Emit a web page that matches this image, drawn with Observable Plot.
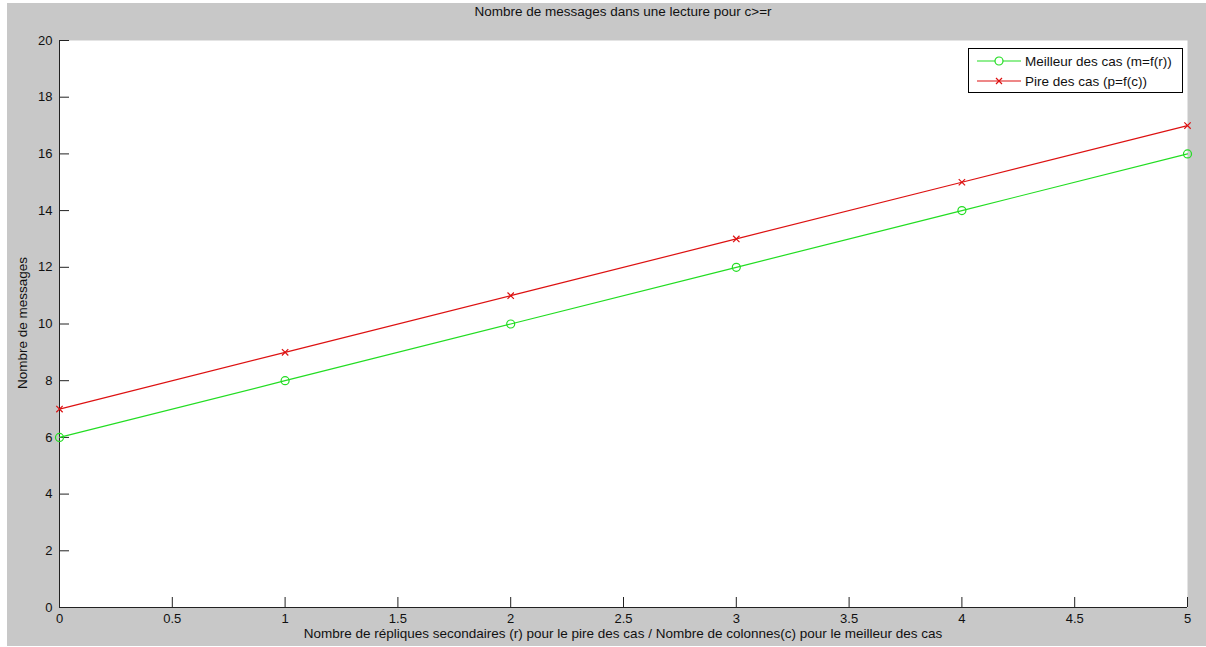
<!DOCTYPE html>
<html>
<head>
<meta charset="utf-8">
<script src="https://cdn.jsdelivr.net/npm/d3@7"></script>
<script src="https://cdn.jsdelivr.net/npm/@observablehq/plot@0.6"></script>
<style>
  html, body { margin: 0; padding: 0; background: #ffffff; }
  body { width: 1206px; height: 647px; position: relative; overflow: hidden; font-family: "Liberation Sans", Arial, sans-serif; }
  #fig { position: absolute; left: 7px; top: 3px; width: 1199px; height: 643px; background: #c8c8c8; }
  #chart { position: absolute; left: 0; top: 0; }
  .txt { position: absolute; font-size: 13.5px; color: #111; white-space: nowrap; }
  #title { left: 0; width: 1246px; top: 4px; text-align: center; }
  #xlabel { left: 0; width: 1246px; top: 626px; text-align: center; }
  #ylabel { left: 22px; top: 323px; transform: translate(-50%, -50%) rotate(-90deg); }
  #legend { position: absolute; left: 968px; top: 48px; width: 215px; height: 45px; background: #fff; border: 1px solid #000; box-sizing: border-box; }
  .row { position: absolute; left: 0; height: 20px; display: flex; align-items: center; font-size: 13.5px; color: #111; }
  .row svg { margin-left: 8px; margin-right: 4px; }
</style>
</head>
<body>
<div id="fig"></div>
<div id="chart"></div>
<div id="title" class="txt"></div>
<div id="xlabel" class="txt"></div>
<div id="ylabel" class="txt"></div>
<div id="legend"></div>
<script>
// ---- data ----
const xValues = [0, 1, 2, 3, 4, 5];
const bestCase = [6, 8, 10, 12, 14, 16];   // Meilleur des cas (m=f(r))
const worstCase = [7, 9, 11, 13, 15, 17];  // Pire des cas (p=f(c))
const seriesNames = ["Meilleur des cas (m=f(r))", "Pire des cas (p=f(c))"];
const xTicks = [0, 0.5, 1, 1.5, 2, 2.5, 3, 3.5, 4, 4.5, 5];
const yTicks = [0, 2, 4, 6, 8, 10, 12, 14, 16, 18, 20];
const titleText = "Nombre de messages dans une lecture pour c>=r";
const xLabelText = "Nombre de répliques secondaires (r) pour le pire des cas / Nombre de colonnes(c) pour le meilleur des cas";
const yLabelText = "Nombre de messages";

// ---- styles ----
const greenColor = "#22dd22";
const redColor = "#dd1111";

const best = xValues.map((x, i) => ({x, y: bestCase[i]}));
const worst = xValues.map((x, i) => ({x, y: worstCase[i]}));

const W = 1206, H = 647;
const mL = 59, mT = 40, mR = 19, mB = 40;
const innerW = W - mL - mR, innerH = H - mT - mB;
const tickLen = 10;

const chart = Plot.plot({
  width: W, height: H,
  marginLeft: mL, marginTop: mT, marginRight: mR, marginBottom: mB,
  x: {domain: [0, 5]},
  y: {domain: [0, 20]},
  style: {background: "transparent", fontFamily: "'Liberation Sans', Arial, sans-serif", fontSize: "13px", color: "#111"},
  marks: [
    Plot.frame({fill: "white", stroke: null}),
    Plot.tickY(yTicks, {y: d => d, insetRight: innerW - tickLen, stroke: "#222", strokeWidth: 1}),
    Plot.tickX(xTicks, {x: d => d, insetTop: innerH - tickLen, stroke: "#222", strokeWidth: 1}),
    Plot.axisX({ticks: xTicks, tickSize: 0, tickPadding: 6, label: null, tickFormat: d => String(d)}),
    Plot.axisY({ticks: yTicks, tickSize: 0, tickPadding: 7, label: null, tickFormat: d => String(d)}),
    Plot.ruleX([0], {stroke: "#222"}),
    Plot.ruleY([0], {stroke: "#222"}),
    Plot.line(best, {x: "x", y: "y", stroke: greenColor, strokeWidth: 1.2}),
    Plot.dot(best, {x: "x", y: "y", r: 4, stroke: greenColor, strokeWidth: 1.2, fill: "none"}),
    Plot.line(worst, {x: "x", y: "y", stroke: redColor, strokeWidth: 1.2}),
    Plot.dot(worst, {x: "x", y: "y", r: 3, symbol: "times", stroke: redColor, strokeWidth: 1.2})
  ]
});
document.getElementById("chart").appendChild(chart);

document.getElementById("title").textContent = titleText;
document.getElementById("xlabel").textContent = xLabelText;
document.getElementById("ylabel").textContent = yLabelText;

// legend
const legend = document.getElementById("legend");
const symbols = [
  `<circle cx="22" cy="6" r="4" fill="white" stroke="${greenColor}" stroke-width="1.2"/>`,
  `<path d="M19,3L25,9M25,3L19,9" stroke="${redColor}" stroke-width="1.2"/>`
];
const colors = [greenColor, redColor];
seriesNames.forEach((name, i) => {
  const row = document.createElement("div");
  row.className = "row";
  row.style.top = (2 + i * 20) + "px";
  row.innerHTML = `<svg width="44" height="12"><line x1="0" y1="6" x2="44" y2="6" stroke="${colors[i]}" stroke-width="1.2"/>${symbols[i]}</svg><span>${name.replace(/&/g,"&amp;").replace(/</g,"&lt;")}</span>`;
  legend.appendChild(row);
});
</script>
</body>
</html>
